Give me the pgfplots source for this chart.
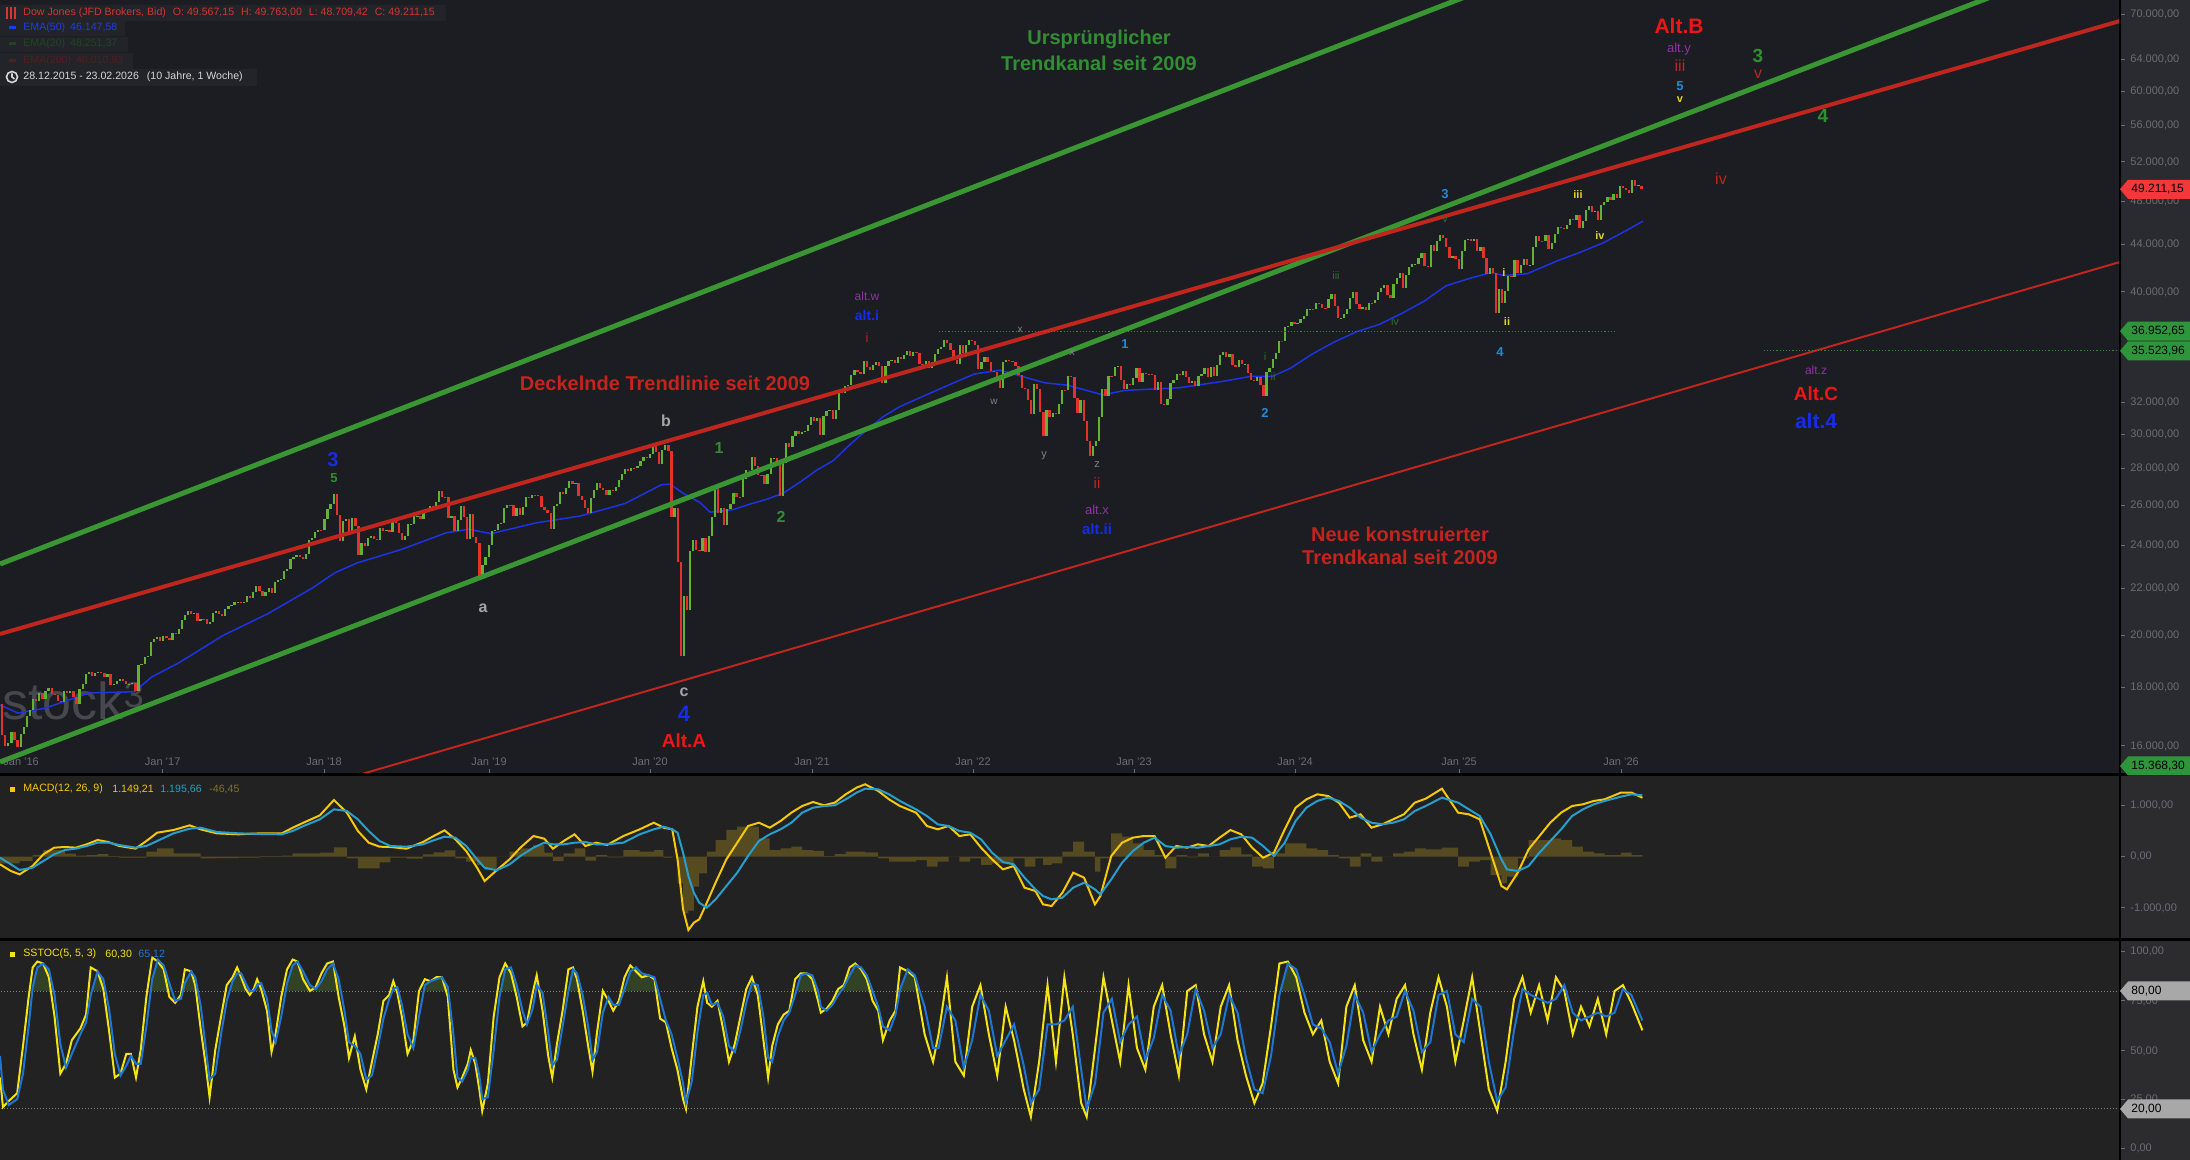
\documentclass[border=0pt]{standalone}
\usepackage{pgfplots}
\pgfplotsset{compat=1.18}
\usepackage{pgfplotstable}
\usepackage{fontspec}
\setmainfont{Liberation Sans}

\definecolor{bgP}{RGB}{27,29,34}
\definecolor{bgL}{RGB}{34,34,34}
\definecolor{colR}{RGB}{42,43,48}
\definecolor{colRL}{RGB}{44,44,47}
\definecolor{cup}{RGB}{100,178,52}
\definecolor{cdn}{RGB}{226,50,44}
\definecolor{emab}{RGB}{28,52,228}
\definecolor{tgreen}{RGB}{58,150,50}
\definecolor{tred}{RGB}{192,38,30}
\definecolor{txtgreen}{RGB}{50,142,50}
\definecolor{txtred}{RGB}{196,36,28}
\definecolor{altred}{RGB}{238,22,22}
\definecolor{purp}{RGB}{140,52,160}
\definecolor{dblue}{RGB}{22,44,232}
\definecolor{lblue}{RGB}{32,140,215}
\definecolor{yel}{RGB}{228,212,30}
\definecolor{dgreen}{RGB}{42,110,42}
\definecolor{lgray}{RGB}{165,165,168}
\definecolor{lgray2}{RGB}{130,130,134}
\definecolor{axgray}{RGB}{108,109,114}
\definecolor{macdy}{RGB}{246,200,10}
\definecolor{macdb}{RGB}{40,158,205}
\definecolor{hist}{RGB}{122,102,32}
\definecolor{histt}{RGB}{130,112,42}
\definecolor{stky}{RGB}{245,228,20}
\definecolor{stkb}{RGB}{30,118,210}
\definecolor{stkfill}{RGB}{50,66,38}
\definecolor{boxred}{RGB}{242,56,56}
\definecolor{boxgreen}{RGB}{46,150,58}
\definecolor{boxgray}{RGB}{168,168,168}
\definecolor{legbg}{RGB}{34,36,41}
\definecolor{legred}{RGB}{210,55,48}
\definecolor{legblue}{RGB}{30,60,230}
\definecolor{leggreen}{RGB}{32,70,32}
\definecolor{legdred}{RGB}{84,30,30}
\definecolor{legwhite}{RGB}{215,215,215}
\definecolor{wm}{RGB}{70,72,78}
\definecolor{dotg}{RGB}{60,130,60}

\newcommand{\F}[1]{\fontsize{#1}{#1}\selectfont}
\newcommand{\ann}[5]{\node[inner sep=0pt,text=#3,font=#4] at (#1,{1160-(#2)}) {#5};}
\newcommand{\annw}[5]{\node[inner sep=0pt,anchor=west,text=#3,font=#4] at (#1,{1160-(#2)}) {#5};}
\newcommand{\pbox}[3]{%
  \fill[#2] (2120,{1160-(#1)}) -- (2128,{1160-(#1)+9.5}) -- (2190,{1160-(#1)+9.5}) -- (2190,{1160-(#1)-9.5}) -- (2128,{1160-(#1)-9.5}) -- cycle;
  \node[anchor=west,inner sep=0pt,text=black,font=\F{6}] at (2131,{1160-(#1)}) {#3};}

\pgfplotstableread{
o c
17535 17425
17425 16346
16346 15988
15988 16093
16093 16466
16466 16205
16205 15974
15974 16392
16392 16640
16640 17006
17006 17213
17213 17602
17602 17515
17515 17793
17793 17577
17577 17897
17897 18004
18004 17774
17774 17740
17740 17535
17535 17500
17500 17873
17873 17807
17807 17865
17865 17675
17675 17400
17400 17949
17949 18146
18146 18516
18516 18570
18570 18432
18432 18543
18543 18576
18576 18552
18552 18395
18395 18492
18492 18085
18085 18124
18124 18261
18261 18308
18308 18240
18240 18138
18138 18145
18145 18161
18161 17888
17888 18848
18848 18868
18868 19152
19152 19171
19171 19757
19757 19843
19843 19934
19934 19763
19763 19964
19964 19886
19886 19827
19827 20094
20094 20071
20071 20269
20269 20624
20624 20822
20822 21005
21005 20903
20903 20915
20915 20596
20596 20663
20663 20656
20656 20453
20453 20548
20548 20941
20941 21007
21007 20897
20897 20805
20805 21080
21080 21206
21206 21272
21272 21384
21384 21395
21395 21350
21350 21414
21414 21638
21638 21580
21580 21830
21830 22092
22092 21858
21858 21675
21675 21814
21814 21988
21988 21798
21798 22268
22268 22350
22350 22405
22405 22773
22773 22871
22871 23329
23329 23434
23434 23539
23539 23422
23422 23358
23358 23558
23558 24232
24232 24329
24329 24651
24651 24754
24754 24719
24719 25295
25295 25803
25803 26072
26072 26617
26617 25521
25521 24191
24191 25219
25219 25310
25310 24538
24538 25336
25336 24947
24947 23533
23533 24103
24103 23933
23933 24360
24360 24463
24463 24311
24311 24263
24263 24831
24831 24715
24715 24753
24753 24635
24635 25317
25317 25090
25090 24581
24581 24271
24271 24456
24456 25019
25019 25058
25058 25451
25451 25463
25463 25313
25313 25669
25669 25790
25790 25965
25965 25917
25917 26155
26155 26744
26744 26458
26458 26447
26447 25340
25340 25444
25444 24688
24688 25270
25270 25989
25989 25413
25413 24286
24286 25538
25538 24389
24389 24101
24101 22445
22445 23062
23062 23433
23433 23996
23996 24706
24706 24737
24737 25064
25064 25106
25106 25883
25883 26031
26031 26026
26026 25450
25450 25849
25849 25502
25502 25929
25929 26425
26425 26412
26412 26559
26559 26543
26543 26505
26505 25942
25942 25764
25764 25586
25586 24815
24815 25984
25984 26090
26090 26719
26719 26600
26600 26922
26922 27332
27332 27154
27154 27192
27192 26485
26485 26287
26287 25886
25886 25629
25629 26403
26403 26797
26797 27220
27220 26935
26935 26820
26820 26573
26573 26817
26817 26770
26770 26958
26958 27347
27347 27681
27681 28005
28005 27876
27876 28051
28051 28015
28015 28135
28135 28455
28455 28645
28645 28635
28635 28824
28824 29348
29348 28990
28990 28256
28256 29103
29103 29398
29398 28992
28992 25409
25409 25865
25865 23186
23186 19174
19174 21637
21637 21053
21053 23719
23719 24242
24242 23775
23775 23724
23724 24331
24331 23685
23685 24465
24465 25383
25383 27111
27111 25606
25606 25871
25871 25016
25016 25827
25827 26075
26075 26672
26672 26470
26470 26428
26428 27433
27433 27931
27931 27930
27930 28654
28654 28133
28133 27666
27666 27657
27657 27174
27174 27683
27683 28587
28587 28606
28606 28336
28336 26502
26502 28323
28323 29480
29480 29263
29263 29910
29910 30218
30218 30046
30046 30179
30179 30200
30200 30606
30606 31098
31098 30814
30814 30997
30997 29983
29983 31148
31148 31458
31458 31494
31494 30932
30932 31496
31496 32779
32779 32628
32628 33073
33073 33153
33153 33801
33801 34200
34200 34043
34043 33875
33875 34778
34778 34382
34382 34208
34208 34529
34529 34756
34756 34480
34480 33290
33290 34433
34433 34786
34786 34870
34870 34687
34687 35062
35062 34935
34935 35208
35208 35515
35515 35120
35120 35455
35455 35369
35369 34607
34607 34584
34584 34798
34798 34326
34326 34746
34746 35295
35295 35677
35677 35820
35820 36328
36328 36100
36100 35602
35602 34899
34899 34580
34580 35971
35971 35365
35365 35951
35951 36338
36338 36231
36231 35912
35912 34265
34265 34725
34725 35089
35089 34738
34738 34079
34079 34058
34058 33615
33615 32944
32944 34755
34755 34861
34861 34818
34818 34721
34721 34451
34451 33811
33811 32977
32977 32899
32899 32197
32197 31262
31262 33213
33213 32900
32900 31393
31393 29889
29889 31501
31501 31097
31097 31338
31338 31288
31288 31899
31899 32845
32845 32803
32803 33761
33761 33706
33706 32283
32283 31318
31318 32151
32151 30822
30822 29590
29590 28725
28725 29297
29297 29635
29635 31083
31083 32861
32861 32403
32403 33748
33748 33746
33746 34347
34347 34430
34430 33477
33477 32920
32920 33204
33204 33147
33147 33631
33631 34303
34303 33375
33375 33978
33978 33926
33926 33870
33870 33827
33827 32817
32817 33391
33391 31910
31910 31862
31862 32238
32238 33274
33274 33485
33485 33887
33887 33809
33809 34098
34098 33675
33675 33301
33301 33427
33427 33093
33093 33763
33763 33877
33877 34300
34300 33727
33727 34408
34408 33735
33735 34509
34509 35228
35228 35459
35459 35066
35066 35281
35281 34501
34501 34347
34347 34838
34838 34577
34577 34619
34619 33964
33964 33508
33508 33408
33408 33670
33670 33127
33127 32418
32418 34061
34061 34283
34283 34947
34947 35390
35390 36246
36246 36248
36248 37306
37306 37386
37386 37690
37690 37466
37466 37593
37593 37863
37863 38109
38109 38654
38654 38671
38671 38628
38628 39131
39131 39087
39087 38723
38723 38715
38715 39476
39476 39807
39807 38904
38904 37983
37983 37986
37986 38240
38240 38676
38676 39513
39513 40004
40004 39070
39070 38686
38686 38799
38799 38589
38589 39150
39150 39119
39119 39376
39376 40001
40001 40288
40288 40589
40589 39737
39737 39498
39498 40660
40660 41175
41175 41563
41563 40345
40345 41394
41394 42063
42063 42313
42313 42353
42353 42864
42864 43276
43276 42114
42114 42052
42052 43989
43989 43445
43445 44297
44297 44911
44911 44643
44643 43828
43828 42840
42840 42992
42992 42732
42732 41938
41938 43488
43488 44424
44424 44545
44545 44303
44303 44546
44546 43428
43428 43841
43841 42802
42802 41488
41488 41985
41985 41583
41583 38315
38315 40213
40213 39142
39142 40114
40114 41317
41317 41249
41249 42655
42655 41603
41603 42270
42270 42763
42763 42198
42198 42207
42207 43819
43819 44829
44829 44372
44372 44342
44342 44902
44902 43589
43589 44176
44176 44946
44946 45632
45632 45545
45545 45401
45401 45834
45834 46315
46315 46247
46247 46758
46758 45480
45480 46191
46191 47207
47207 47563
47563 46987
46987 47147
47147 46245
46245 47716
47716 47955
47955 48458
48458 48135
48135 48711
48711 48382
48382 49504
49504 49359
49359 49098
49098 48892
48892 50115
50115 49500
49500 49625
49567 49211
}\prices

\pgfplotstableread{
x v
2015.994 17380
2016.105 17100
2016.272 17270
2016.544 17810
2016.823 17850
2016.934 18400
2017.101 18930
2017.373 20000
2017.651 20900
2017.923 22000
2018.066 22700
2018.202 23150
2018.480 23800
2018.752 24600
2018.894 24780
2019.030 24560
2019.309 25100
2019.581 25450
2019.859 26100
2020.082 27100
2020.137 27150
2020.218 26650
2020.323 26150
2020.385 25650
2020.527 25780
2020.632 26070
2020.737 26330
2020.836 26650
2020.941 27250
2021.046 27930
2021.145 28450
2021.250 29400
2021.356 30300
2021.455 31100
2021.560 31750
2021.870 33200
2022.020 33900
2022.178 34160
2022.456 33300
2022.592 33150
2022.815 32500
2022.951 32800
2023.285 32970
2023.557 33400
2023.724 33730
2023.860 33730
2023.972 34280
2024.114 35330
2024.250 36190
2024.386 36930
2024.522 37460
2024.664 38320
2024.800 39260
2024.936 40500
2025.079 41100
2025.215 41600
2025.295 41350
2025.437 41500
2025.629 42620
2025.765 43330
2025.907 44160
2026.043 45220
2026.155 46150
}\ema

\pgfplotstableread{
x m s
2015.994 -149 -19
2016.061 -279 -149
2016.115 -344 -259
2016.195 -181 -214
2016.262 46 -84
2016.329 176 46
2016.396 189 131
2016.463 176 157
2016.530 241 209
2016.597 325 274
2016.664 286 274
2016.731 209 228
2016.832 157 176
2016.899 306 209
2016.966 468 306
2017.067 520 455
2017.167 611 546
2017.234 533 566
2017.335 455 481
2017.469 436 455
2017.603 455 442
2017.737 455 436
2017.804 565 501
2017.871 663 598
2017.972 806 728
2018.059 1105 923
2018.139 858 890
2018.207 501 728
2018.274 273 501
2018.341 195 306
2018.408 189 208
2018.508 156 195
2018.609 286 241
2018.676 403 319
2018.743 513 390
2018.810 338 370
2018.877 111 208
2018.944 -214 -51
2018.991 -474 -214
2019.065 -266 -266
2019.145 -51 -149
2019.212 176 14
2019.293 403 176
2019.360 351 273
2019.413 156 241
2019.480 306 241
2019.547 436 273
2019.614 208 286
2019.681 273 241
2019.748 228 241
2019.849 403 273
2019.950 533 436
2020.037 663 533
2020.097 566 585
2020.151 533 533
2020.184 -51 468
2020.218 -1026 78
2020.251 -1429 -377
2020.285 -1286 -702
2020.318 -1221 -897
2020.365 -897 -994
2020.419 -507 -832
2020.486 -51 -572
2020.553 273 -312
2020.620 598 14
2020.687 663 306
2020.754 566 436
2020.821 696 533
2020.888 858 663
2020.955 988 858
2021.022 1066 955
2021.089 1001 988
2021.156 1053 1001
2021.224 1216 1118
2021.291 1346 1248
2021.344 1411 1326
2021.425 1281 1313
2021.492 1118 1216
2021.559 988 1086
2021.659 858 923
2021.726 598 793
2021.793 533 631
2021.860 598 598
2021.927 403 501
2021.994 436 468
2022.061 176 338
2022.129 -51 78
2022.196 -247 -104
2022.263 -182 -149
2022.330 -604 -409
2022.397 -669 -637
2022.444 -929 -767
2022.497 -962 -832
2022.564 -702 -799
2022.631 -312 -604
2022.698 -409 -507
2022.765 -929 -637
2022.799 -767 -734
2022.866 14 -442
2022.933 273 -117
2023.000 371 111
2023.067 403 273
2023.134 403 371
2023.201 -19 208
2023.268 208 176
2023.335 176 189
2023.402 241 176
2023.469 208 208
2023.536 371 241
2023.603 520 338
2023.670 436 390
2023.737 176 371
2023.805 -19 208
2023.872 78 14
2023.939 533 273
2024.006 955 696
2024.073 1118 955
2024.140 1216 1086
2024.207 1183 1151
2024.274 1053 1086
2024.341 761 955
2024.408 826 761
2024.475 566 663
2024.542 631 631
2024.609 728 663
2024.676 826 728
2024.743 1053 891
2024.811 1131 988
2024.911 1326 1151
2025.011 858 1053
2025.078 826 923
2025.145 728 793
2025.212 79 436
2025.279 -571 -52
2025.313 -637 -247
2025.380 -312 -279
2025.447 143 -182
2025.514 403 79
2025.581 663 306
2025.648 858 533
2025.716 988 793
2025.783 1021 923
2025.850 1086 1021
2025.917 1118 1086
2026.017 1248 1170
2026.084 1248 1216
2026.151 1149 1196
}\macd

\pgfplotstableread{
x k d
2015.994 36 47
2016.012 21 30
2016.047 24 22
2016.100 28 25
2016.136 52 38
2016.171 77 62
2016.196 92 82
2016.225 95 92
2016.260 94 94
2016.296 87 91
2016.331 67 78
2016.367 38 53
2016.402 43 41
2016.438 55 48
2016.491 61 58
2016.526 68 64
2016.555 92 78
2016.597 90 90
2016.633 81 86
2016.668 60 71
2016.704 36 48
2016.739 38 37
2016.775 48 42
2016.803 48 47
2016.835 36 43
2016.864 50 43
2016.899 77 62
2016.935 97 86
2016.970 95 96
2017.006 91 93
2017.041 77 84
2017.077 74 75
2017.112 78 76
2017.137 91 84
2017.176 90 90
2017.201 83 87
2017.236 60 72
2017.265 43 52
2017.290 26 35
2017.325 50 38
2017.361 67 58
2017.396 83 75
2017.432 87 85
2017.460 92 89
2017.485 87 89
2017.513 81 84
2017.538 78 80
2017.563 81 80
2017.584 86 83
2017.609 81 84
2017.645 70 76
2017.673 49 60
2017.698 58 54
2017.733 77 67
2017.769 91 84
2017.804 96 93
2017.833 95 95
2017.868 86 90
2017.911 80 83
2017.946 82 81
2017.982 89 85
2018.017 94 91
2018.053 95 94
2018.088 77 86
2018.124 62 70
2018.152 46 54
2018.188 57 52
2018.223 40 48
2018.259 30 35
2018.294 44 37
2018.330 58 51
2018.365 75 66
2018.401 78 76
2018.426 85 81
2018.451 79 82
2018.479 67 73
2018.514 48 58
2018.550 55 51
2018.585 80 67
2018.621 86 83
2018.656 85 85
2018.692 87 86
2018.727 87 87
2018.763 77 82
2018.798 40 58
2018.823 31 36
2018.852 36 34
2018.887 43 40
2018.905 50 46
2018.933 43 46
2018.958 30 37
2018.976 19 25
2019.011 33 26
2019.047 67 50
2019.083 87 77
2019.118 94 91
2019.154 89 92
2019.189 77 83
2019.225 62 70
2019.253 64 63
2019.288 79 71
2019.313 88 83
2019.349 70 79
2019.384 47 59
2019.409 36 42
2019.438 53 45
2019.473 70 62
2019.509 91 80
2019.537 92 91
2019.562 86 89
2019.597 70 78
2019.633 51 61
2019.658 39 45
2019.686 59 49
2019.722 80 69
2019.757 75 77
2019.786 70 73
2019.821 75 73
2019.856 87 81
2019.892 93 90
2019.927 90 92
2019.963 87 89
2020.005 88 88
2020.041 86 87
2020.076 66 76
2020.112 64 65
2020.147 51 58
2020.183 40 46
2020.218 25 33
2020.236 20 23
2020.272 47 34
2020.307 72 59
2020.343 85 78
2020.367 74 79
2020.396 72 73
2020.431 75 74
2020.467 60 67
2020.502 44 52
2020.538 53 49
2020.573 67 60
2020.609 81 74
2020.644 87 84
2020.680 78 83
2020.715 55 67
2020.744 36 46
2020.769 52 44
2020.804 63 57
2020.840 68 65
2020.875 70 69
2020.911 86 78
2020.946 89 88
2020.982 89 89
2021.017 86 88
2021.053 75 80
2021.070 69 72
2021.106 71 70
2021.142 75 73
2021.177 81 78
2021.212 83 82
2021.248 92 88
2021.283 94 93
2021.319 91 92
2021.354 86 88
2021.390 75 80
2021.425 70 72
2021.454 55 62
2021.496 65 60
2021.532 70 68
2021.560 92 81
2021.608 90 91
2021.651 87 88
2021.712 58 72
2021.764 44 51
2021.798 58 51
2021.850 87 72
2021.902 44 65
2021.954 37 41
2022.006 72 55
2022.057 83 78
2022.109 58 70
2022.161 37 47
2022.213 72 55
2022.265 55 63
2022.325 30 42
2022.369 16 23
2022.420 44 30
2022.472 83 63
2022.524 44 63
2022.576 87 65
2022.628 58 72
2022.680 23 40
2022.714 16 20
2022.766 51 33
2022.818 87 69
2022.870 65 76
2022.921 44 54
2022.973 83 63
2023.025 51 67
2023.077 40 45
2023.129 72 56
2023.181 83 78
2023.233 58 70
2023.284 37 47
2023.336 80 58
2023.388 83 81
2023.440 58 70
2023.492 44 51
2023.543 72 58
2023.595 83 78
2023.647 55 69
2023.699 37 46
2023.751 23 30
2023.802 33 28
2023.854 62 47
2023.906 94 78
2023.958 95 94
2024.010 87 91
2024.061 69 78
2024.113 58 63
2024.165 65 61
2024.217 44 54
2024.269 33 38
2024.320 72 52
2024.372 83 78
2024.424 55 69
2024.476 44 49
2024.528 72 58
2024.580 58 65
2024.631 76 67
2024.683 83 80
2024.735 58 70
2024.787 40 49
2024.839 69 54
2024.890 87 78
2024.942 72 80
2024.994 44 58
2025.046 65 54
2025.098 87 76
2025.150 58 72
2025.201 30 44
2025.253 19 24
2025.305 44 31
2025.357 76 60
2025.409 87 81
2025.460 69 78
2025.512 83 76
2025.564 65 74
2025.616 87 76
2025.668 80 83
2025.720 58 69
2025.771 72 65
2025.823 62 67
2025.875 76 69
2025.927 58 67
2025.979 80 69
2026.030 83 81
2026.082 74 78
2026.151 60 65
}\stoch

\pgfplotsset{panel/.style={scale only axis, width=1060pt, hide axis, xmin=2015.9938, xmax=2029.1045, clip=true, anchor=south west},
  pricepanel/.style={panel, at={(0pt,193.5pt)}, height=386.5pt, ymin=9.62585, ymax=11.18592}}

\begin{document}
\begin{tikzpicture}
\begin{scope}[x=0.5pt,y=0.5pt]
\path[use as bounding box] (0,0) rectangle (2190,1160);
\fill[bgP] (0,387) rectangle (2120,1160);
\fill[bgL] (0,0) rectangle (2120,384);
\fill[colR] (2120,387) rectangle (2190,1160);
\fill[colRL] (2120,0) rectangle (2190,384);
\node[anchor=base west,inner sep=0pt,text=wm,font=\F{26}] at (2,{1160-720}) {stock\raisebox{6pt}{\F{18}3}};
\fill[legbg] (0,{1160-21}) rectangle (446,{1160-5});
\fill[legbg] (0,{1160-36}) rectangle (125,{1160-21});
\fill[legbg] (0,{1160-52}) rectangle (128,{1160-37});
\fill[legbg] (0,{1160-69}) rectangle (133,{1160-53});
\fill[legbg] (0,{1160-86}) rectangle (257,{1160-69});
\end{scope}

% EMA
\begin{axis}[pricepanel]
\addplot[emab, line width=0.75pt] table[x=x, y expr={ln(\thisrow{v})}] {\ema};
\end{axis}
% candles
\begin{axis}[pricepanel]
\addplot[draw=none, mark=none, error bars/.cd, y dir=plus, y explicit, error mark=none,
  error bar style={draw=cup, line width=1.15pt}]
  table[x expr={2015.988+0.019165*\coordindex}, y expr={ln(\thisrow{o})}, y error expr={max(0,ln(\thisrow{c})-ln(\thisrow{o}))}] {\prices};
\addplot[draw=none, mark=none, error bars/.cd, y dir=plus, y explicit, error mark=none,
  error bar style={draw=cdn, line width=1.15pt}]
  table[x expr={2015.988+0.019165*\coordindex}, y expr={ln(\thisrow{c})}, y error expr={max(0,ln(\thisrow{o})-ln(\thisrow{c}))}] {\prices};
\end{axis}
% trend lines
\begin{axis}[pricepanel]
\addplot[tgreen, line width=2.5pt] table[row sep=\\, y expr={ln(\thisrow{p})}] {x p\\ 2015.9938 23100\\ 2026.0 81777\\};
\addplot[tgreen, line width=2.5pt] table[row sep=\\, y expr={ln(\thisrow{p})}] {x p\\ 2015.9938 15490\\ 2029.2 81165\\};
\addplot[tred, line width=2pt] table[row sep=\\, y expr={ln(\thisrow{p})}] {x p\\ 2015.9938 20058\\ 2029.104 69116\\};
\addplot[tred, line width=1pt] table[row sep=\\, y expr={ln(\thisrow{p})}] {x p\\ 2017.849 14580\\ 2029.104 42495\\};
\addplot[dotg, densely dotted, line width=0.6pt] table[row sep=\\, y expr={ln(\thisrow{p})}] {x p\\ 2021.80 36952.65\\ 2025.99 36952.65\\};
\addplot[dotg, densely dotted, line width=0.6pt] table[row sep=\\, y expr={ln(\thisrow{p})}] {x p\\ 2026.90 35523.96\\ 2029.2 35523.96\\};
\end{axis}

% MACD panel
\begin{axis}[panel, at={(0pt,111pt)}, height=81pt, ymin=-1584.8, ymax=1573.1]
\addplot[ybar interval, fill=hist, draw=none, fill opacity=0.6] table[x=x, y expr={\thisrow{m}-\thisrow{s}}] {\macd};
\addplot[macdy, line width=1pt] table[x=x, y=m] {\macd};
\addplot[macdb, line width=1pt] table[x=x, y=s] {\macd};
\end{axis}

% Stochastic panel
\begin{axis}[panel, at={(0pt,0pt)}, height=109.5pt, ymin=-5.95, ymax=105.44]
\addplot[fill=stkfill, draw=none] table[x=x, y=d] {\stoch} |- (axis cs:2015.994,80) -- cycle;
\addplot[fill=bgL, draw=none] coordinates {(2015,-10) (2030,-10) (2030,80) (2015,80)} -- cycle;
\addplot[gray, densely dotted, line width=0.5pt] coordinates {(2015,80) (2030,80)};
\addplot[gray, densely dotted, line width=0.5pt] coordinates {(2015,20) (2030,20)};
\addplot[stky, line width=1pt] table[x=x, y=k] {\stoch};
\addplot[stkb, line width=1pt] table[x=x, y=d] {\stoch};
\end{axis}

\begin{scope}[x=0.5pt,y=0.5pt]
\fill[black] (0,{1160-776}) rectangle (2190,{1160-773});
\fill[black] (0,{1160-941}) rectangle (2190,{1160-938});
\fill[black] (2119.3,0) rectangle (2121,1160);

\foreach \v/\py in {70.000/14.7,64.000/59.1,60.000/91.1,56.000/125.3,52.000/162.0,48.000/201.6,44.000/244.8,40.000/292.0,32.000/402.5,30.000/434.5,28.000/468.7,26.000/505.4,24.000/545.1,22.000/588.2,20.000/635.4,18.000/687.6,16.000/746.0,1.000/805.7,0/856.7,-1.000/908,100/951.7,75/1000.9,50/1051,25/1099.2,0/1148.3}{
  \draw[axgray, line width=0.5pt] (2121,{1160-\py}) -- (2125,{1160-\py});
  \node[anchor=west,inner sep=0pt,text=axgray,font=\F{5.5}] at (2130,{1160-\py}) {\v,00};
}
\foreach \px/\lab in {162.7/17,324/18,489/19,650/20,812/21,973/22,1134/23,1295/24,1459/25,1621/26}{
  \draw[axgray, line width=0.5pt] (\px,{1160-773}) -- (\px,{1160-769});
  \node[inner sep=0pt,text=axgray,font=\F{5.5}] at (\px,{1160-762}) {Jan '\lab};
}
\annw{3}{762}{axgray}{\F{5.5}}{Jan '16}

\pbox{189.3}{boxred}{49.211,15}
\pbox{331.2}{boxgreen}{36.952,65}
\pbox{350.8}{boxgreen}{35.523,96}
\pbox{766.0}{boxgreen}{15.368,30}
\pbox{991}{boxgray}{80,00}
\pbox{1109}{boxgray}{20,00}

\foreach \xx in {7,11,15}{\draw[legred, line width=0.6pt] (\xx,{1160-19}) -- (\xx,{1160-7});}
\fill[legred] (6,{1160-16}) rectangle (8,{1160-10});
\fill[legred] (10,{1160-14}) rectangle (12,{1160-9});
\fill[legred] (14,{1160-17}) rectangle (16,{1160-11});
\annw{23}{13}{legred}{\F{5.3}}{Dow Jones (JFD Brokers, Bid)\hspace{3.5pt}O: 49.567,15\hspace{3.5pt}H: 49.763,00\hspace{3.5pt}L: 48.709,42\hspace{3.5pt}C: 49.211,15}
\fill[legblue] (9,{1160-29.5}) rectangle (16,{1160-26.5});
\annw{23}{28}{legblue}{\F{5.3}}{EMA(50)\hspace{2.5pt}46.147,58}
\fill[leggreen] (9,{1160-45.5}) rectangle (16,{1160-42.5});
\annw{23}{44}{leggreen}{\F{5.3}}{EMA(20)\hspace{2.5pt}48.251,37}
\fill[legdred] (9,{1160-62.5}) rectangle (16,{1160-59.5});
\annw{23}{61}{legdred}{\F{5.3}}{EMA(200)\hspace{2.5pt}40.010,93}
\draw[legwhite, line width=0.8pt] (12,{1160-77}) circle (5.5);
\draw[legwhite, line width=0.8pt] (12,{1160-73.5}) -- (12,{1160-77}) -- (14.5,{1160-79});
\annw{23}{77}{legwhite}{\F{5.3}}{28.12.2015 - 23.02.2026\hspace{4pt}(10 Jahre, 1 Woche)}

\fill[macdy] (10,{1160-792}) rectangle (15,{1160-787});
\annw{23}{789}{macdy}{\F{5.3}}{MACD(12, 26, 9)}
\annw{112}{789}{macdy}{\F{5.3}}{1.149,21}
\annw{160}{789}{macdb}{\F{5.3}}{1.195,66}
\annw{209}{789}{histt}{\F{5.3}}{-46,45}
\fill[stky] (10,{1160-957}) rectangle (15,{1160-952});
\annw{23}{954}{stky}{\F{5.3}}{SSTOC(5, 5, 3)}
\annw{105}{954}{stky}{\F{5.3}}{60,30}
\annw{138}{954}{stkb}{\F{5.3}}{65,12}

\ann{1099}{39}{txtgreen}{\F{10}\bfseries}{Ursprünglicher}
\ann{1099}{63}{txtgreen}{\F{10}\bfseries}{Trendkanal seit 2009}
\ann{665}{383}{txtred}{\F{10}\bfseries}{Deckelnde Trendlinie seit 2009}
\ann{1400}{534}{txtred}{\F{10}\bfseries}{Neue konstruierter}
\ann{1400}{557}{txtred}{\F{10}\bfseries}{Trendkanal seit 2009}
\ann{1679}{26}{altred}{\F{10.5}\bfseries}{Alt.B}
\ann{1679}{49}{purp}{\F{6.5}}{alt.y}
\ann{1680}{66}{txtred}{\F{8}}{iii}
\ann{1680}{86}{lblue}{\F{6.5}\bfseries}{5}
\ann{1680}{100}{yel}{\F{5.5}\bfseries}{v}
\ann{1758}{56}{txtgreen}{\F{9.5}\bfseries}{3}
\ann{1758}{74}{txtred}{\F{8}}{v}
\ann{1823}{116}{txtgreen}{\F{9.5}\bfseries}{4}
\ann{1721}{179}{txtred}{\F{8}}{iv}
\ann{1578}{195}{yel}{\F{5.5}\bfseries}{iii}
\ann{1600}{236}{yel}{\F{5.5}\bfseries}{iv}
\ann{1445}{194}{lblue}{\F{6.5}\bfseries}{3}
\ann{1445}{220}{dgreen}{\F{5.5}}{v}
\ann{1336}{276}{dgreen}{\F{5.5}}{iii}
\ann{1395}{322}{dgreen}{\F{5.5}}{iv}
\ann{1020}{330}{lgray2}{\F{5}}{x}
\ann{1072}{353}{lgray2}{\F{5.5}}{x}
\ann{1125}{344}{lblue}{\F{6.5}\bfseries}{1}
\ann{994}{402}{lgray2}{\F{5}}{w}
\ann{1044}{456}{lgray2}{\F{5.5}}{y}
\ann{1097}{465}{lgray2}{\F{5.5}}{z}
\ann{1097}{483}{txtred}{\F{7.5}}{ii}
\ann{1097}{510}{purp}{\F{6.5}}{alt.x}
\ann{1097}{529}{dblue}{\F{7.5}\bfseries}{alt.ii}
\ann{1265}{357}{dgreen}{\F{5.5}}{i}
\ann{1273}{377}{dgreen}{\F{5.5}}{ii}
\ann{1265}{413}{lblue}{\F{6.5}\bfseries}{2}
\ann{1500}{352}{lblue}{\F{6.5}\bfseries}{4}
\ann{1504}{273}{yel}{\F{5.5}\bfseries}{i}
\ann{1507}{322}{yel}{\F{5.5}\bfseries}{ii}
\ann{867}{296}{purp}{\F{6}}{alt.w}
\ann{867}{316}{dblue}{\F{7}\bfseries}{alt.i}
\ann{867}{338}{txtred}{\F{6.5}}{i}
\ann{666}{421}{lgray}{\F{8}\bfseries}{b}
\ann{719}{448}{txtgreen}{\F{8}\bfseries}{1}
\ann{781}{517}{txtgreen}{\F{8}\bfseries}{2}
\ann{483}{608}{lgray}{\F{8}\bfseries}{a}
\ann{684}{692}{lgray}{\F{8}\bfseries}{c}
\ann{684}{714}{dblue}{\F{11}\bfseries}{4}
\ann{684}{741}{altred}{\F{9.5}\bfseries}{Alt.A}
\ann{333}{460}{dblue}{\F{10}\bfseries}{3}
\ann{334}{478}{txtgreen}{\F{6.5}\bfseries}{5}
\ann{1816}{370}{purp}{\F{6}}{alt.z}
\ann{1816}{394}{altred}{\F{9.5}\bfseries}{Alt.C}
\ann{1816}{421}{dblue}{\F{10.5}\bfseries}{alt.4}
\end{scope}
\end{tikzpicture}
\end{document}
